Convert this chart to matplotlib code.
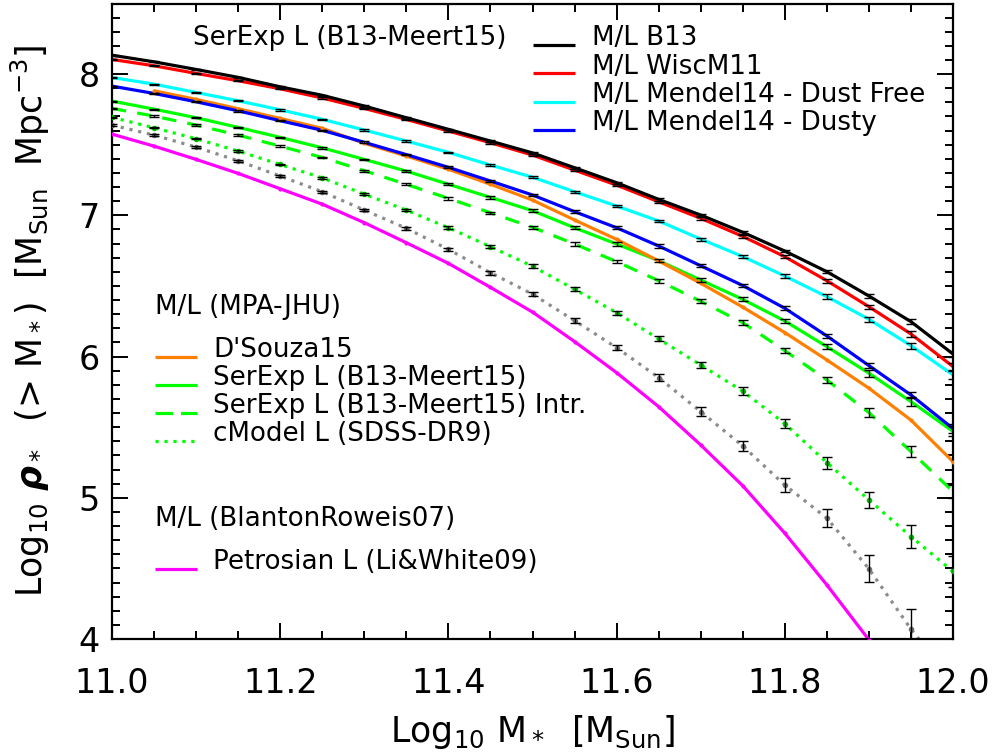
import matplotlib as mpl

mpl.use("Agg")
import matplotlib.pyplot as plt
from matplotlib.lines import Line2D
from matplotlib.ticker import MultipleLocator, FormatStrFormatter

mpl.rcParams.update(
    {
        "font.family": ["DejaVu Sans"],
        "mathtext.fontset": "dejavusans",
        "mathtext.default": "regular",
    }
)

W, H = 996, 755

# stellar mass grid, Log10 M* [MSun]
log_mstar = [11.00, 11.05, 11.10, 11.15, 11.20, 11.25, 11.30, 11.35, 11.40, 11.45, 11.50,
             11.55, 11.60, 11.65, 11.70, 11.75, 11.80, 11.85, 11.90, 11.95, 12.00]

# cumulative stellar mass density, Log10 rho*(>M*)
rho_b13 = [8.134, 8.087, 8.033, 7.977, 7.910, 7.850, 7.774, 7.691, 7.609, 7.526, 7.442,
           7.337, 7.231, 7.113, 7.002, 6.880, 6.747, 6.601, 6.429, 6.247, 6.018]
rho_wisc = [8.104, 8.059, 8.005, 7.953, 7.896, 7.831, 7.757, 7.679, 7.597, 7.514, 7.427,
            7.320, 7.214, 7.096, 6.979, 6.851, 6.707, 6.537, 6.353, 6.160, 5.929]
rho_mendel_df = [7.976, 7.929, 7.870, 7.811, 7.747, 7.680, 7.604, 7.526, 7.446, 7.356, 7.270,
                 7.167, 7.066, 6.960, 6.832, 6.708, 6.570, 6.424, 6.264, 6.077, 5.870]
rho_mendel_dusty = [7.915, 7.863, 7.804, 7.740, 7.670, 7.602, 7.517, 7.430, 7.340, 7.243, 7.144,
                    7.026, 6.912, 6.783, 6.643, 6.503, 6.342, 6.146, 5.936, 5.728, 5.490]
rho_dsouza = [float("nan"), 7.882, 7.821, 7.755, 7.686, 7.616, 7.510, 7.420, 7.326, 7.220, 7.108,
              6.967, 6.830, 6.677, 6.519, 6.350, 6.170, 5.976, 5.776, 5.550, 5.256]
rho_serexp = [7.809, 7.752, 7.691, 7.623, 7.552, 7.478, 7.396, 7.313, 7.220, 7.127, 7.033,
              6.912, 6.797, 6.679, 6.542, 6.405, 6.252, 6.070, 5.882, 5.681, 5.470]
rho_serexp_intr = [7.757, 7.703, 7.639, 7.568, 7.490, 7.410, 7.316, 7.219, 7.120, 7.018, 6.915,
                   6.797, 6.672, 6.537, 6.391, 6.240, 6.042, 5.834, 5.603, 5.327, 5.044]
rho_cmodel = [7.694, 7.620, 7.542, 7.455, 7.360, 7.265, 7.150, 7.037, 6.912, 6.778, 6.640,
              6.476, 6.311, 6.125, 5.940, 5.755, 5.525, 5.249, 4.985, 4.725, 4.478]
rho_grey = [7.639, 7.568, 7.483, 7.386, 7.278, 7.167, 7.037, 6.908, 6.759, 6.594, 6.442,
            6.254, 6.063, 5.851, 5.610, 5.367, 5.090, 4.856, 4.497, 4.070, 3.700]
rho_petro = [7.575, 7.490, 7.396, 7.297, 7.188, 7.079, 6.948, 6.806, 6.660, 6.490, 6.315,
             6.106, 5.886, 5.645, 5.374, 5.085, 4.749, 4.383, 3.994, 3.550, 3.050]

# 1-sigma errors
err_b13 = [0.003, 0.003, 0.003, 0.004, 0.004, 0.004, 0.005, 0.005, 0.005, 0.006, 0.006,
           0.007, 0.007, 0.008, 0.008, 0.009, 0.010, 0.011, 0.013, 0.016, 0.020]
err_wisc = [0.003, 0.003, 0.004, 0.004, 0.004, 0.005, 0.005, 0.005, 0.006, 0.006, 0.007,
            0.007, 0.008, 0.008, 0.009, 0.010, 0.011, 0.013, 0.015, 0.018, 0.022]
err_mendel_df = [0.004, 0.004, 0.004, 0.004, 0.005, 0.005, 0.005, 0.006, 0.006, 0.007, 0.007,
                 0.008, 0.009, 0.010, 0.011, 0.012, 0.014, 0.016, 0.018, 0.022, 0.026]
err_mendel_dusty = [0.004, 0.004, 0.004, 0.005, 0.005, 0.005, 0.006, 0.006, 0.007, 0.007, 0.008,
                    0.009, 0.010, 0.011, 0.012, 0.013, 0.015, 0.017, 0.020, 0.024, 0.029]
err_serexp = [0.004, 0.004, 0.005, 0.005, 0.005, 0.006, 0.006, 0.007, 0.007, 0.008, 0.009,
              0.010, 0.011, 0.012, 0.013, 0.015, 0.017, 0.020, 0.024, 0.030, 0.036]
err_serexp_intr = [0.004, 0.005, 0.005, 0.005, 0.006, 0.006, 0.007, 0.007, 0.008, 0.009, 0.010,
                   0.011, 0.012, 0.013, 0.015, 0.017, 0.020, 0.024, 0.030, 0.038, 0.047]
err_cmodel = [0.005, 0.005, 0.005, 0.006, 0.006, 0.007, 0.008, 0.008, 0.009, 0.010, 0.012,
              0.013, 0.015, 0.018, 0.021, 0.026, 0.033, 0.043, 0.058, 0.080, 0.110]
err_grey = [0.005, 0.005, 0.006, 0.006, 0.007, 0.008, 0.009, 0.010, 0.011, 0.013, 0.015,
            0.017, 0.020, 0.024, 0.030, 0.038, 0.050, 0.065, 0.095, 0.140, 0.190]

ORANGE = "#FF8000"
GREEN = "#00FF00"
GREY = "#8C8C8C"
LW = 2.3
DASH = (0, (4.5, 3.5))
DOT = (0, (1, 1.8))

# (values, errors, colour, linestyle, marker colour)
curves = [
    (rho_petro, None, "#FF00FF", "-", None),
    (rho_grey, err_grey, GREY, DOT, "#6E6E6E"),
    (rho_cmodel, err_cmodel, GREEN, DOT, "#00C000"),
    (rho_serexp_intr, err_serexp_intr, GREEN, DASH, None),
    (rho_serexp, err_serexp, GREEN, "-", None),
    (rho_dsouza, None, ORANGE, "-", None),
    (rho_mendel_dusty, err_mendel_dusty, "#0000FF", "-", None),
    (rho_mendel_df, err_mendel_df, "#00FFFF", "-", None),
    (rho_wisc, err_wisc, "#FF0000", "-", None),
    (rho_b13, err_b13, "black", "-", None),
]


def fx(px):
    return px / W


def fy(py):
    return 1 - py / H


def legend_line(fig, x0, x1, y, color, ls):
    fig.add_artist(Line2D([fx(x0), fx(x1)], [fy(y), fy(y)], transform=fig.transFigure,
                          color=color, lw=LW, linestyle=ls, solid_capstyle="butt",
                          dash_capstyle="butt"))


fig = plt.figure(figsize=(W / 100, H / 100), dpi=100)
ax = fig.add_axes([fx(112), fy(639), fx(953) - fx(112), fy(3.5) - fy(639)])

for i, (vals, errs, col, ls, mcol) in enumerate(curves):
    ax.plot(log_mstar, vals, color=col, lw=LW, linestyle=ls, zorder=2 + i * 0.01,
            solid_capstyle="butt", dash_capstyle="butt")
    if errs is not None:
        ax.errorbar(log_mstar, vals, yerr=errs, fmt="none", ecolor="black", elinewidth=1.0,
                    capsize=3.6, capthick=1.0, zorder=5)
    else:
        ax.plot(log_mstar, vals, "o", color=col, ms=3, mew=0, zorder=3)
    if mcol is not None:
        ax.plot(log_mstar, vals, "o", color=mcol, ms=4, mew=0, zorder=4)

ax.set_xlim(11.0, 12.0)
ax.set_ylim(4.0, 8.5)
ax.xaxis.set_major_locator(MultipleLocator(0.2))
ax.xaxis.set_minor_locator(MultipleLocator(0.05))
ax.xaxis.set_major_formatter(FormatStrFormatter("%.1f"))
ax.yaxis.set_major_locator(MultipleLocator(1))
ax.yaxis.set_minor_locator(MultipleLocator(0.1))
ax.tick_params(which="both", direction="in", top=True, right=True, width=1.4, labelsize=24)
ax.tick_params(which="major", length=11.5)
ax.tick_params(which="minor", length=5.8)
ax.tick_params(axis="x", pad=20)
ax.tick_params(axis="y", pad=9)
for sp in ax.spines.values():
    sp.set_linewidth(1.6)

fig.text(fx(532), fy(742), r"Log$_{10}$ M$_*$  [M$_{Sun}$]", fontsize=25,
         ha="center", va="baseline")
fig.text(fx(43), fy(321), r"Log$_{10}$ $\boldsymbol{\rho}_*$  (> M$_*$)  [M$_{Sun}$  Mpc$^{-3}$]",
         fontsize=25, rotation=90, rotation_mode="anchor", ha="center", va="baseline")

LFS = 18.8
fig.text(fx(193), fy(38), "SerExp L (B13-Meert15)", fontsize=LFS, ha="left", va="center")
top_entries = [
    ("M/L B13", "black", 45, 38),
    ("M/L WiscM11", "#FF0000", 73, 67),
    ("M/L Mendel14 - Dust Free", "#00FFFF", 102, 95),
    ("M/L Mendel14 - Dusty", "#0000FF", 130, 123),
]
for label, col, yl, yt in top_entries:
    legend_line(fig, 533, 575, yl, col, "-")
    fig.text(fx(592), fy(yt), label, fontsize=LFS, ha="left", va="center")

fig.text(fx(155), fy(307), "M/L (MPA-JHU)", fontsize=LFS, ha="left", va="center")
low_entries = [
    ("D'Souza15", ORANGE, "-", 357, 350),
    ("SerExp L (B13-Meert15)", GREEN, "-", 385, 378),
    ("SerExp L (B13-Meert15) Intr.", GREEN, (0, (5.5, 2.5)), 413, 406),
    ("cModel L (SDSS-DR9)", GREEN, DOT, 441, 434),
]
for label, col, ls, yl, yt in low_entries:
    legend_line(fig, 155, 197, yl, col, ls)
    fig.text(fx(213), fy(yt), label, fontsize=LFS, ha="left", va="center")

fig.text(fx(155), fy(519), "M/L (BlantonRoweis07)", fontsize=LFS, ha="left", va="center")
legend_line(fig, 155, 197, 569, "#FF00FF", "-")
fig.text(fx(213), fy(562), "Petrosian L (Li&White09)", fontsize=LFS, ha="left", va="center")

fig.savefig("out.png", dpi=100)
